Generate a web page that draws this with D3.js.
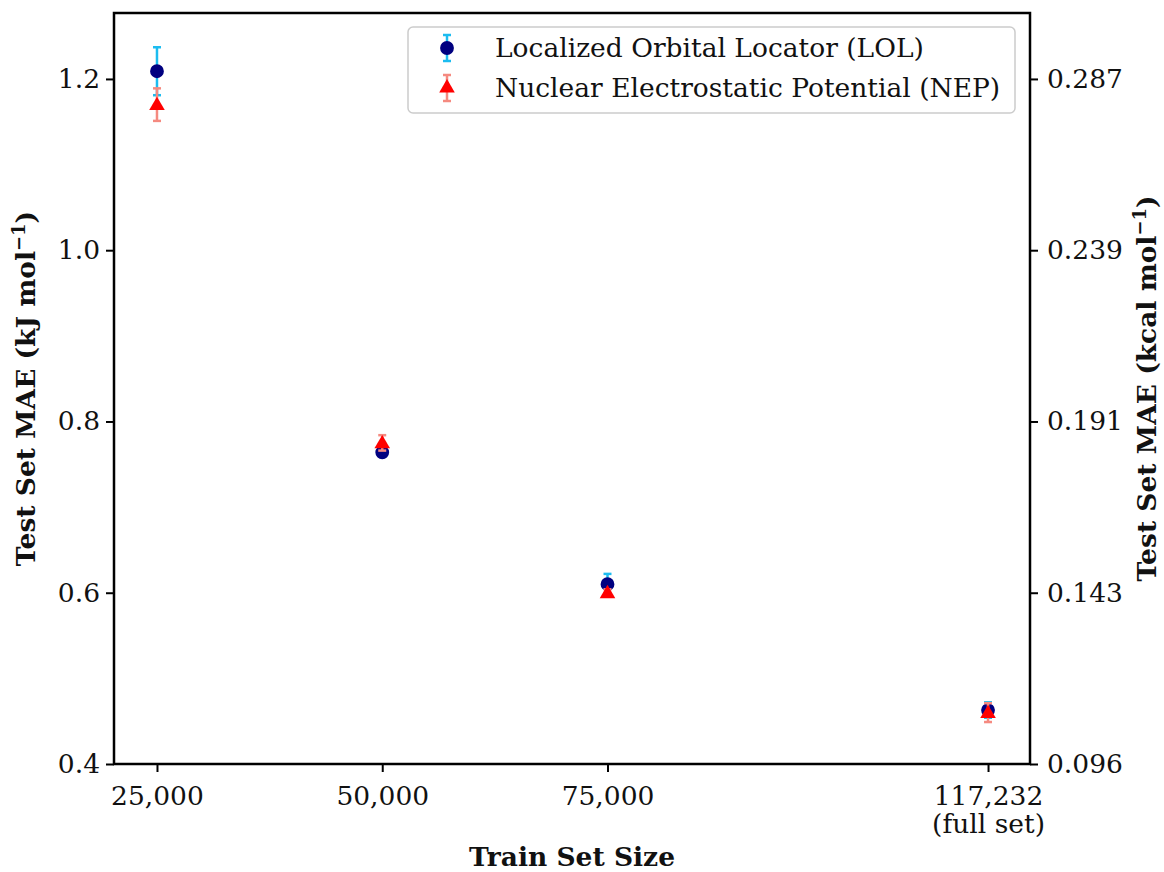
<!DOCTYPE html>
<html>
<head>
<meta charset="utf-8">
<script src="https://cdn.jsdelivr.net/npm/d3@7"></script>
<style>
  html, body { margin: 0; padding: 0; background: #fff; }
  svg text { font-family: "DejaVu Serif", serif; fill: #111; }
</style>
</head>
<body>
<svg id="chart" width="1164" height="872"></svg>
<script>
// Training set sizes
const trainSizes = [25000, 50000, 75000, 117232];
const xTickLabels = ["25,000", "50,000", "75,000", "117,232"];

// Test-set MAE (kJ/mol) and standard deviations
const lolMae = [1.209, 0.764, 0.610, 0.463];
const lolErr = [0.028, 0.005, 0.012, 0.009];
const nepMae = [1.170, 0.775, 0.600, 0.460];
const nepErr = [0.019, 0.009, 0.004, 0.011];

const yTicks = [0.4, 0.6, 0.8, 1.0, 1.2];
const KJ_PER_KCAL = 4.184;

const svg = d3.select("#chart");
const plotLeft = 114, plotRight = 1030, plotTop = 13, plotBottom = 764;

const x = d3.scaleLinear().domain([20230, 121890]).range([plotLeft, plotRight]);
const y = d3.scaleLinear().domain([0.4, 1.277]).range([plotBottom, plotTop]);

const fontSize = 26.5;

// Axes
const xAxis = d3.axisBottom(x).tickValues(trainSizes).tickSize(8).tickPadding(14)
  .tickFormat((d, i) => xTickLabels[i]);
const gx = svg.append("g").attr("transform", `translate(0,${plotBottom})`).call(xAxis);
gx.selectAll("text").attr("font-size", fontSize);
gx.select(".tick:last-of-type text").append("tspan")
  .attr("x", 0).attr("dy", "1.07em").text("(full set)");

const yAxisL = d3.axisLeft(y).tickValues(yTicks).tickSize(8).tickPadding(6)
  .tickFormat(d3.format(".1f"));
const gyl = svg.append("g").attr("transform", `translate(${plotLeft},0)`).call(yAxisL);
gyl.selectAll("text").attr("font-size", fontSize);

const yAxisR = d3.axisRight(y).tickValues(yTicks).tickSize(8).tickPadding(9)
  .tickFormat(d => (d / KJ_PER_KCAL).toFixed(3));
const gyr = svg.append("g").attr("transform", `translate(${plotRight},0)`).call(yAxisR);
gyr.selectAll("text").attr("font-size", fontSize);

[gx, gyl, gyr].forEach(g => {
  g.select(".domain").remove();
  g.selectAll(".tick line").attr("stroke", "#000").attr("stroke-width", 2);
});

// Frame
svg.append("rect").attr("x", plotLeft).attr("y", plotTop)
  .attr("width", plotRight - plotLeft).attr("height", plotBottom - plotTop)
  .attr("fill", "none").attr("stroke", "#000").attr("stroke-width", 2.5);

// Axis titles
svg.append("text").attr("x", (plotLeft + plotRight) / 2).attr("y", 866)
  .attr("text-anchor", "middle").attr("font-size", fontSize).attr("font-weight", "bold")
  .text("Train Set Size");

function yTitle(xPos, unit) {
  const t = svg.append("text")
    .attr("transform", `translate(${xPos},${(plotTop + plotBottom) / 2}) rotate(-90)`)
    .attr("text-anchor", "middle").attr("font-size", fontSize).attr("font-weight", "bold");
  t.append("tspan").text(`Test Set MAE (${unit} mol`);
  t.append("tspan").attr("baseline-shift", "super").attr("font-size", 18).text("\u22121");
  t.append("tspan").text(")");
}
yTitle(35, "kJ");
yTitle(1156, "kcal");

// Error bars and markers
const cap = 4;
function errorBars(vals, errs, color) {
  const g = svg.append("g").attr("stroke", color).attr("stroke-width", 2.5);
  trainSizes.forEach((s, i) => {
    const cx = x(s), y0 = y(vals[i] - errs[i]), y1 = y(vals[i] + errs[i]);
    g.append("line").attr("x1", cx).attr("x2", cx).attr("y1", y0).attr("y2", y1);
    g.append("line").attr("x1", cx - cap).attr("x2", cx + cap).attr("y1", y0).attr("y2", y0);
    g.append("line").attr("x1", cx - cap).attr("x2", cx + cap).attr("y1", y1).attr("y2", y1);
  });
}
const circleSym = d3.symbol().type(d3.symbolCircle).size(150);
const triSym = d3.symbol().type(d3.symbolTriangle).size(105);

errorBars(lolMae, lolErr, "#1cbcf0");
svg.append("g").selectAll("path").data(trainSizes).join("path")
  .attr("d", circleSym)
  .attr("transform", (d, i) => `translate(${x(d)},${y(lolMae[i])})`)
  .attr("fill", "#000080");

errorBars(nepMae, nepErr, "#f58a80");
svg.append("g").selectAll("path").data(trainSizes).join("path")
  .attr("d", triSym)
  .attr("transform", (d, i) => `translate(${x(d)},${y(nepMae[i]) + 1})`)
  .attr("fill", "#ff0000");

// Legend
const lg = svg.append("g");
lg.append("rect").attr("x", 408).attr("y", 27).attr("width", 607).attr("height", 86)
  .attr("rx", 5).attr("fill", "#fff").attr("fill-opacity", 0.85)
  .attr("stroke", "#cccccc").attr("stroke-width", 1.5);

const legendItems = [
  { label: "Localized Orbital Locator (LOL)", sym: circleSym, fill: "#000080", err: "#1cbcf0", cy: 48 },
  { label: "Nuclear Electrostatic Potential (NEP)", sym: triSym, fill: "#ff0000", err: "#f58a80", cy: 88 }
];
legendItems.forEach(it => {
  const mx = 447, h = 13;
  const e = lg.append("g").attr("stroke", it.err).attr("stroke-width", 2.5);
  e.append("line").attr("x1", mx).attr("x2", mx).attr("y1", it.cy - h).attr("y2", it.cy + h);
  e.append("line").attr("x1", mx - cap).attr("x2", mx + cap).attr("y1", it.cy - h).attr("y2", it.cy - h);
  e.append("line").attr("x1", mx - cap).attr("x2", mx + cap).attr("y1", it.cy + h).attr("y2", it.cy + h);
  lg.append("path").attr("d", it.sym).attr("transform", `translate(${mx},${it.cy})`).attr("fill", it.fill);
  lg.append("text").attr("x", 495).attr("y", it.cy).attr("dy", "0.35em")
    .attr("font-size", fontSize).text(it.label);
});
</script>
</body>
</html>
